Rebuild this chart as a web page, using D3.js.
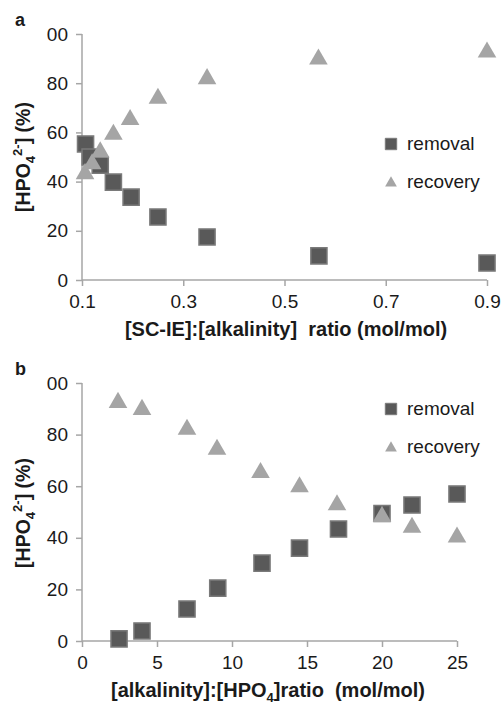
<!DOCTYPE html>
<html lang="en">
<head>
    <meta charset="UTF-8">
    <title>HPO4 removal and recovery</title>
    <style>
        body {
            margin: 0;
            background: #fff;
            font-family: "Liberation Sans", Arial, sans-serif;
        }
    </style>
</head>
<body>
<script src="https://d3js.org/d3.v7.min.js"></script>
<script>

    // panel a: [SC-IE]:[alkalinity] ratio
    var aRemovalX = [0.107, 0.116, 0.136, 0.162, 0.197, 0.25, 0.347, 0.568, 0.9];
    var aRemovalY = [55.3, 50, 46.7, 39.8, 33.7, 25.6, 17.5, 9.8, 6.9];
    var aRecoveryX = [0.106, 0.12, 0.136, 0.162, 0.195, 0.25, 0.347, 0.567, 0.9];
    var aRecoveryY = [44, 48, 52.8, 60, 66, 74.6, 82.6, 90.6, 93.4];
    var aXTicks = [0.1, 0.3, 0.5, 0.7, 0.9];

    // panel b: [alkalinity]:[HPO4] ratio
    var bRemovalX = [2.47, 4, 7, 9.05, 12, 14.5, 17.1, 20, 22, 25];
    var bRemovalY = [0.8, 3.9, 12.4, 20.5, 30.2, 36, 43.4, 49.4, 52.7, 57];
    var bRecoveryX = [2.4, 4, 7, 9, 11.9, 14.5, 17, 20, 22, 25];
    var bRecoveryY = [93.2, 90.5, 82.8, 75, 66, 60.5, 53.5, 49, 44.8, 41];
    var bXTicks = [0, 5, 10, 15, 20, 25];

    var yTicks = [0, 20, 40, 60, 80, 100];
    var yTickLabels = ['0', '20', '40', '60', '80', '00'];
    var seriesNames = ['removal', 'recovery'];

    var width = 502,
        height = 704;

    var axisColor = '#a6a6a6',
        squareFill = '#595959',
        squareStroke = '#7a7a7a',
        triFill = '#a5a5a5',
        textColor = '#1a1a1a';

    var svg = d3.select('body').append('svg')
        .attr('width', width)
        .attr('height', height);

    var square = d3.symbol().type(d3.symbolSquare).size(260);
    var triangle = d3.symbol().type(d3.symbolTriangle).size(150);
    var legSquare = d3.symbol().type(d3.symbolSquare).size(130);
    var legTriangle = d3.symbol().type(d3.symbolTriangle).size(60);

    function panel(opt) {
        var g = svg.append('g');

        var x = d3.scaleLinear().domain(opt.xDomain).range([82, opt.xRight]);
        var y = d3.scaleLinear().domain([0, 100]).range([opt.y0, opt.y100]);

        // y axis
        var yAxis = d3.axisLeft(y)
            .tickValues(yTicks)
            .tickSize(6)
            .tickPadding(8)
            .tickFormat((d, i) => yTickLabels[i]);
        var ya = g.append('g')
            .attr('transform', 'translate(82,0)')
            .call(yAxis);

        // x axis
        var xAxis = d3.axisBottom(x)
            .tickValues(opt.xTicks)
            .tickSize(6)
            .tickPadding(9)
            .tickFormat(opt.xFormat);
        var xa = g.append('g')
            .attr('transform', 'translate(0,' + opt.y0 + ')')
            .call(xAxis);

        [ya, xa].forEach(a => {
            a.select('.domain').attr('stroke', axisColor).attr('stroke-width', 1.5);
            a.selectAll('.tick line').attr('stroke', axisColor).attr('stroke-width', 1.5);
            a.selectAll('.tick text')
                .attr('fill', textColor)
                .attr('font-family', '"Liberation Sans", Arial, sans-serif')
                .attr('font-size', 19);
        });
        ya.select('.domain').attr('d', 'M0,' + opt.y100 + 'V' + opt.y0);
        xa.select('.domain').attr('d', 'M82,0H' + opt.xRight);

        // panel letter
        g.append('text')
            .attr('x', 15)
            .attr('y', opt.y100 - 8)
            .attr('font-size', 18)
            .attr('font-weight', 'bold')
            .attr('fill', textColor)
            .text(opt.letter);

        // y title
        var yt = g.append('text')
            .attr('transform', 'translate(30,' + opt.yTitleY + ') rotate(-90)')
            .attr('text-anchor', 'middle')
            .attr('font-size', 19.5)
            .attr('font-weight', 'bold')
            .attr('fill', textColor);
        yt.append('tspan').text('[HPO');
        yt.append('tspan').attr('font-size', 13).attr('dy', 5).text('4');
        yt.append('tspan').attr('font-size', 13).attr('dy', -13).text('2-');
        yt.append('tspan').attr('dy', 8).text('] (%)');

        // x title
        var xt = g.append('text')
            .attr('x', opt.xTitleX)
            .attr('y', opt.y0 + 56)
            .attr('text-anchor', 'middle')
            .attr('font-size', 20)
            .attr('font-weight', 'bold')
            .attr('fill', textColor)
            .attr('xml:space', 'preserve');
        opt.xTitle(xt);

        var removal = opt.remX.map((v, i) => [v, opt.remY[i]]);
        var recovery = opt.recX.map((v, i) => [v, opt.recY[i]]);

        g.selectAll('.rem')
            .data(removal)
            .enter()
            .append('path')
            .attr('class', 'rem')
            .attr('d', square)
            .attr('transform', d => 'translate(' + x(d[0]) + ',' + y(d[1]) + ')')
            .attr('fill', squareFill)
            .attr('stroke', squareStroke)
            .attr('stroke-width', 1.5);

        g.selectAll('.rec')
            .data(recovery)
            .enter()
            .append('path')
            .attr('class', 'rec')
            .attr('d', triangle)
            .attr('transform', d => 'translate(' + x(d[0]) + ',' + (y(d[1]) + 2) + ')')
            .attr('fill', triFill);

        // legend
        var lg = g.append('g');
        lg.append('path')
            .attr('d', legSquare)
            .attr('transform', 'translate(391,' + opt.legY + ')')
            .attr('fill', squareFill)
            .attr('stroke', squareStroke);
        lg.append('path')
            .attr('d', legTriangle)
            .attr('transform', 'translate(391,' + (opt.legY + 39) + ')')
            .attr('fill', triFill);
        lg.selectAll('.lt')
            .data(seriesNames)
            .enter()
            .append('text')
            .attr('x', 407)
            .attr('y', (d, i) => opt.legY + 6 + i * 38)
            .attr('font-size', 19)
            .attr('fill', textColor)
            .text(d => d);
    }

    panel({
        letter: 'a',
        xDomain: [0.1, 0.9],
        xRight: 487,
        xTicks: aXTicks,
        xFormat: d3.format('.1f'),
        y0: 280,
        y100: 34,
        yTitleY: 157,
        xTitleX: 286,
        xTitle: t => t.text('[SC-IE]:[alkalinity]  ratio (mol/mol)'),
        remX: aRemovalX, remY: aRemovalY,
        recX: aRecoveryX, recY: aRecoveryY,
        legY: 144
    });

    panel({
        letter: 'b',
        xDomain: [0, 25],
        xRight: 457,
        xTicks: bXTicks,
        xFormat: d3.format('d'),
        y0: 641,
        y100: 383,
        yTitleY: 513,
        xTitleX: 268,
        xTitle: t => {
            t.append('tspan').text('[alkalinity]:[HPO');
            t.append('tspan').attr('font-size', 13).attr('dy', 5).text('4');
            t.append('tspan').attr('dy', -5).text(']ratio  (mol/mol)');
        },
        remX: bRemovalX, remY: bRemovalY,
        recX: bRecoveryX, recY: bRecoveryY,
        legY: 409
    });
</script>
</body>
</html>
